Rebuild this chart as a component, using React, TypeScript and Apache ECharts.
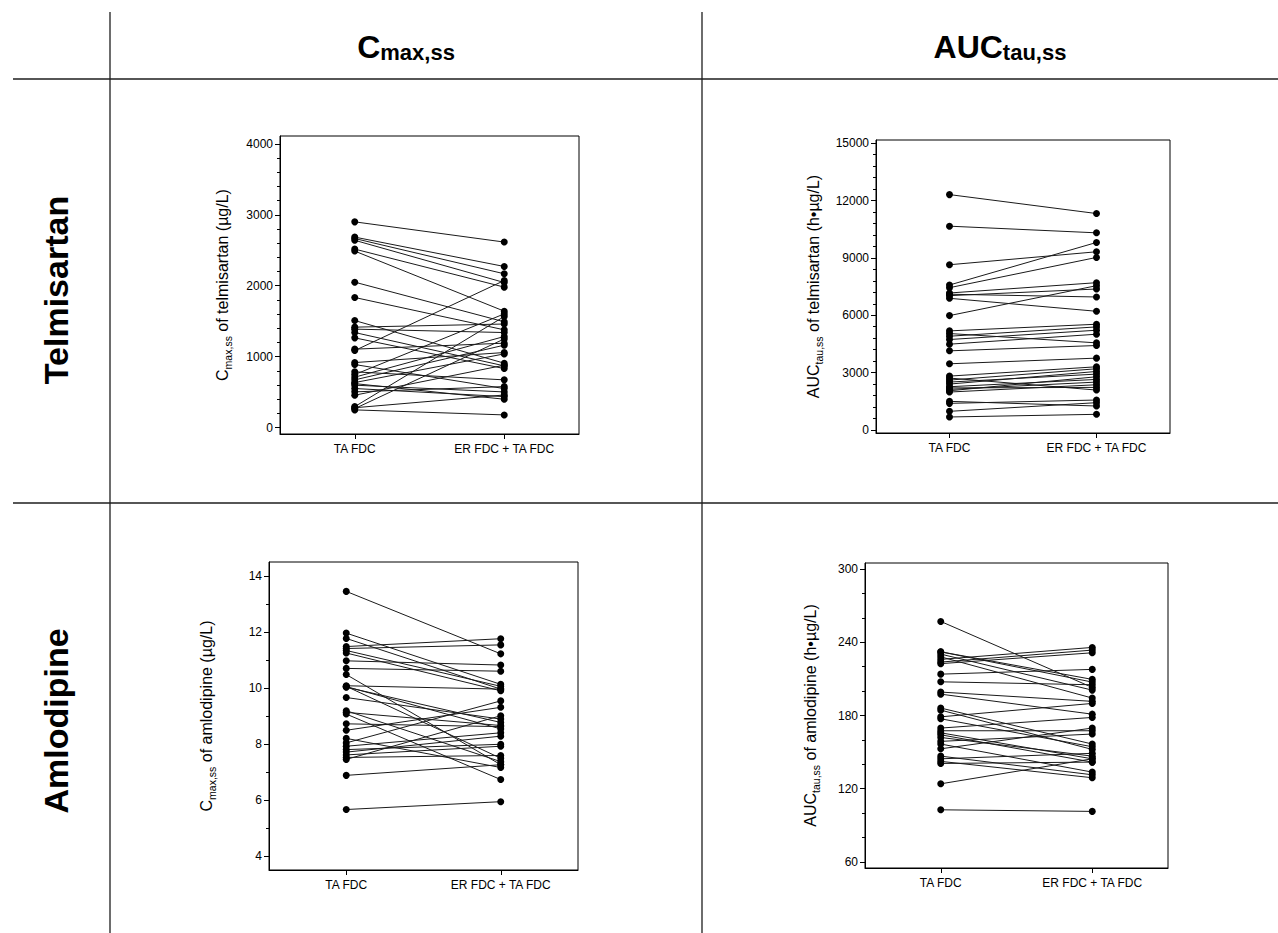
import React, { useEffect, useRef } from 'react';
import * as echarts from 'echarts';

const FONT = 'Arial, "Liberation Sans", Helvetica, sans-serif';

const categories = ['TA FDC', 'ER FDC + TA FDC'];

// Telmisartan Cmax,ss (µg/L): TA FDC vs ER FDC + TA FDC
const telCmaxTA = [2900, 2685, 2665, 2640, 2516, 2488, 2050, 1834, 1509, 1416, 1388, 1340, 1265, 1106, 1086, 917, 889, 786, 748, 711, 673, 635, 620, 598, 551, 504, 457, 296, 268, 250, 280];
const telCmaxER = [2615, 2271, 2168, 2045, 1980, 1641, 1491, 1378, 908, 1460, 1340, 870, 832, 1190, 2073, 1058, 550, 673, 1603, 1284, 1162, 1039, 400, 503, 437, 578, 880, 1566, 1250, 179, 460];
const telCmaxTicks = [0, 1000, 2000, 3000, 4000];

// Telmisartan AUCtau,ss (h·µg/L)
const telAucTA = [12313, 10661, 8643, 7583, 7443, 7165, 7026, 7100, 6887, 5983, 5183, 5044, 4904, 4731, 4487, 4139, 3461, 2817, 2713, 2609, 2504, 2400, 2261, 2122, 1983, 2200, 2050, 1496, 1391, 974, 678];
const telAucER = [11322, 10313, 9322, 9809, 9026, 7704, 7374, 6957, 6209, 7548, 5530, 4557, 5391, 5217, 5009, 4417, 3757, 3304, 2087, 3200, 2922, 3061, 2643, 2504, 2365, 2226, 2783, 1252, 1565, 1426, 817];
const telAucTicks = [0, 3000, 6000, 9000, 12000, 15000];

// Amlodipine Cmax,ss (µg/L)
const amlCmaxTA = [13.45, 11.96, 11.77, 11.48, 11.41, 11.34, 11.25, 10.97, 10.70, 10.48, 10.08, 10.03, 10.05, 10.06, 9.66, 9.19, 9.13, 9.07, 8.72, 8.49, 8.20, 8.04, 7.92, 7.80, 7.71, 7.61, 7.52, 7.45, 6.88, 5.66];
const amlCmaxER = [11.22, 10.13, 9.96, 11.76, 11.54, 10.06, 9.90, 10.82, 10.60, 7.26, 9.96, 8.77, 8.54, 7.49, 8.89, 7.37, 8.66, 6.73, 8.62, 9.31, 7.16, 9.54, 8.40, 7.99, 8.28, 7.92, 7.59, 9.01, 7.26, 5.94];
const amlCmaxTicks = [4, 6, 8, 10, 12, 14];

// Amlodipine AUCtau,ss (h·µg/L)
const amlAucTA = [257.1, 232.2, 230.3, 228.1, 226.0, 223.8, 222.5, 213.9, 207.6, 199.2, 197.5, 186.1, 184.4, 178.9, 177.3, 169.7, 167.5, 165.8, 164.2, 162.0, 158.8, 156.6, 152.7, 146.7, 144.5, 142.4, 140.7, 124.0, 102.7, 232.2];
const amlAucER = [203.0, 209.6, 200.8, 194.3, 235.8, 233.6, 231.4, 217.8, 205.2, 191.6, 181.1, 156.6, 152.2, 189.9, 154.4, 178.4, 167.5, 144.5, 141.8, 146.7, 164.8, 133.6, 169.7, 131.4, 149.0, 129.0, 141.8, 144.5, 101.4, 207.4];
const amlAucTicks = [60, 120, 180, 240, 300];

function minorOf(ticks: number[], parts: number, lo: number, hi: number) {
  const step = (ticks[1] - ticks[0]) / parts;
  const out: number[] = [];
  for (let v = ticks[0] - step * 10; v <= hi; v += step) {
    if (v >= lo && v <= hi) out.push(Math.round(v * 1000) / 1000);
  }
  return out;
}

const panels = [
  { ta: telCmaxTA, er: telCmaxER, ticks: telCmaxTicks, minorParts: 5, min: -90, max: 4110,
    grid: { left: 280, top: 136, width: 299, height: 298 },
    name: '{a|C}{b|max,ss}{a| of telmisartan (µg/L)}', nameGap: 47 },
  { ta: telAucTA, er: telAucER, ticks: telAucTicks, minorParts: 5, min: -160, max: 15170,
    grid: { left: 876, top: 140, width: 294, height: 293 },
    name: '{a|AUC}{b|tau,ss}{a| of telmisartan (h•µg/L)}', nameGap: 52 },
  { ta: amlCmaxTA, er: amlCmaxER, ticks: amlCmaxTicks, minorParts: 2, min: 3.5, max: 14.5,
    grid: { left: 269, top: 562, width: 309, height: 308 },
    name: '{a|C}{b|max,ss}{a| of amlodipine (µg/L)}', nameGap: 52 },
  { ta: amlAucTA, er: amlAucER, ticks: amlAucTicks, minorParts: 3, min: 55, max: 305,
    grid: { left: 865, top: 563, width: 303, height: 305 },
    name: '{a|AUC}{b|tau,ss}{a| of amlodipine (h•µg/L)}', nameGap: 44 },
];

export default function App() {
  const ref = useRef<HTMLDivElement>(null);
  useEffect(() => {
    if (!ref.current) return;
    const chart = echarts.init(ref.current, undefined, { renderer: 'svg' });
    const grids: any[] = [];
    const xAxes: any[] = [];
    const yAxes: any[] = [];
    const series: any[] = [];
    panels.forEach((p, pi) => {
      grids.push({ ...p.grid, show: true, borderColor: '#000', borderWidth: 1, backgroundColor: 'transparent' });
      xAxes.push({
        type: 'category', gridIndex: pi, data: categories, boundaryGap: true,
        axisLine: { show: true, onZero: false, lineStyle: { color: '#000', width: 1 } },
        axisTick: { show: true, alignWithLabel: true, length: 5, lineStyle: { color: '#000' } },
        axisLabel: { color: '#000', fontSize: 12, fontFamily: FONT, margin: 9 },
        splitLine: { show: false },
      });
      yAxes.push({
        type: 'value', gridIndex: pi, min: p.min, max: p.max, position: 'left',
        axisLine: { show: true, onZero: false, lineStyle: { color: '#000', width: 1 } },
        axisTick: { show: true, length: 5, customValues: p.ticks, lineStyle: { color: '#000' } },
        axisLabel: {
          color: '#000', fontSize: 12, fontFamily: FONT, margin: 7, customValues: p.ticks,
          formatter: (v: number) => String(v),
        },
        splitLine: { show: false },
        name: p.name, nameLocation: 'middle', nameRotate: 90, nameGap: p.nameGap,
        nameTextStyle: {
          rich: {
            a: { fontSize: 16, fontFamily: FONT, color: '#000', lineHeight: 22, verticalAlign: 'middle' },
            b: { fontSize: 10.5, fontFamily: FONT, color: '#000', lineHeight: 11, verticalAlign: 'bottom' },
          },
        },
      });
      yAxes.push({
        type: 'value', gridIndex: pi, min: p.min, max: p.max, position: 'left',
        axisLine: { show: false },
        axisTick: { show: true, length: 3, customValues: minorOf(p.ticks, p.minorParts, p.min, p.max), lineStyle: { color: '#000' } },
        axisLabel: { show: false },
        splitLine: { show: false },
      });
      for (let i = 0; i < p.ta.length; i++) {
        series.push({
          type: 'line', xAxisIndex: pi, yAxisIndex: pi * 2,
          data: [p.ta[i], p.er[i]],
          symbol: 'circle', symbolSize: 7, showSymbol: true,
          lineStyle: { color: '#1a1a1a', width: 1 },
          itemStyle: { color: '#000' },
          silent: true, z: 3,
        });
      }
    });

    const lineStyle = { stroke: '#1e1e1e', lineWidth: 1.3 };
    const head = {
      c: { fontSize: 32, fontWeight: 'bold', fontFamily: FONT, fill: '#000', lineHeight: 36, verticalAlign: 'bottom' },
      s: { fontSize: 22, fontWeight: 'bold', fontFamily: FONT, fill: '#000', lineHeight: 24, verticalAlign: 'bottom' },
    };
    const graphic: any[] = [
      { type: 'line', shape: { x1: 13, y1: 79, x2: 1278, y2: 79 }, style: lineStyle },
      { type: 'line', shape: { x1: 13, y1: 503, x2: 1278, y2: 503 }, style: lineStyle },
      { type: 'line', shape: { x1: 110, y1: 12, x2: 110, y2: 933 }, style: lineStyle },
      { type: 'line', shape: { x1: 702, y1: 12, x2: 702, y2: 933 }, style: lineStyle },
      {
        type: 'text', x: 406, y: 45,
        style: { text: '{c|C}{s|max,ss}', align: 'center', verticalAlign: 'middle', rich: head },
      },
      {
        type: 'text', x: 1000, y: 45,
        style: { text: '{c|AUC}{s|tau,ss}', align: 'center', verticalAlign: 'middle', rich: head },
      },
      {
        type: 'text', x: 56, y: 290, rotation: Math.PI / 2,
        style: { text: 'Telmisartan', font: 'bold 34px ' + FONT, fill: '#000', align: 'center', verticalAlign: 'middle' },
      },
      {
        type: 'text', x: 56, y: 721, rotation: Math.PI / 2,
        style: { text: 'Amlodipine', font: 'bold 34px ' + FONT, fill: '#000', align: 'center', verticalAlign: 'middle' },
      },
    ];

    chart.setOption({
      animation: false,
      backgroundColor: '#fff',
      grid: grids,
      xAxis: xAxes,
      yAxis: yAxes,
      series,
      graphic,
    });
    return () => chart.dispose();
  }, []);
  return (
    <div style={{ position: 'fixed', left: 0, top: 0, width: 1278, height: 933, background: '#fff' }}>
      <div ref={ref} style={{ width: 1278, height: 933 }} />
    </div>
  );
}
